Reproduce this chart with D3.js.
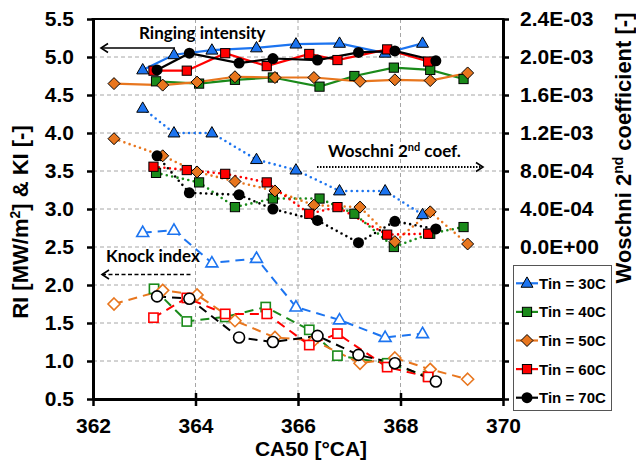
<!DOCTYPE html>
<html>
<head>
<meta charset="utf-8">
<script src="https://cdn.jsdelivr.net/npm/d3@7"></script>
<style>
  body { margin: 0; background: #fff; }
  svg { display: block; }
  .tick text { font-family: "Liberation Sans", Arial, sans-serif; font-weight: bold; font-size: 21px; fill: #000; }
</style>
</head>
<body>
<svg id="chart" width="636" height="466"></svg>
<script>
// ---------- data ----------
const tinLabels = ["Tin = 30C", "Tin = 40C", "Tin = 50C", "Tin = 60C", "Tin = 70C"];

// CA50 [°CA] of each operating point
const ca50_30 = [362.97, 363.58, 364.32, 365.19, 365.96, 366.81, 367.70, 368.43];
const ca50_40 = [363.23, 364.07, 364.77, 365.51, 366.42, 367.10, 367.87, 368.58, 369.23];
const ca50_40_ki = [363.19, 363.83, 364.58, 365.37, 366.22, 366.77, 367.74, 368.54];
const ca50_50 = [362.41, 363.36, 364.03, 364.77, 365.55, 366.31, 367.21, 367.89, 368.58, 369.31];
const ca50_60 = [363.18, 363.83, 364.58, 365.39, 366.22, 366.77, 367.74, 368.54];
const ca50_70 = [363.25, 363.88, 364.85, 365.51, 366.38, 367.18, 367.89, 368.69];

// Ringing intensity [MW/m2]
const ri_30 = [4.83, 5.03, 5.09, 5.12, 5.17, 5.18, 5.05, 5.18];
const ri_40 = [4.68, 4.65, 4.70, 4.73, 4.61, 4.75, 4.86, 4.83, 4.71];
const ri_50 = [4.65, 4.63, 4.67, 4.74, 4.73, 4.73, 4.68, 4.70, 4.69, 4.79];
const ri_60 = [4.82, 4.82, 5.05, 4.88, 5.04, 4.96, 5.10, 4.94];
const ri_70 = [4.83, 5.05, 4.92, 4.98, 4.96, 5.06, 5.08, 4.95];

// Woschni 2nd coefficient [-]
const w_30 = [1.46e-3, 1.20e-3, 1.20e-3, 9.2e-4, 8.1e-4, 5.9e-4, 5.9e-4, 3.4e-4];
const w_40 = [7.8e-4, 6.8e-4, 4.2e-4, 5.1e-4, 5.1e-4, 3.5e-4, 0.0, 1.4e-4, 2.1e-4];
const w_50 = [1.14e-3, 9.6e-4, 7.9e-4, 6.9e-4, 5.9e-4, 4.4e-4, 4.2e-4, 5.6e-5, 3.7e-4, 3.2e-5];
const w_60 = [8.45e-4, 8.1e-4, 7.7e-4, 6.8e-4, 3.5e-4, 4.2e-4, 1.3e-4, 1.4e-4];
const w_70 = [9.6e-4, 5.7e-4, 5.5e-4, 4.0e-4, 2.8e-4, 4.5e-5, 2.7e-4, 1.9e-4];

// Knock index [-]
const ki_30 = [2.69, 2.72, 2.29, 2.35, 1.71, 1.54, 1.31, 1.36];
const ki_40 = [1.95, 1.52, 1.58, 1.71, 1.41, 1.07, 0.97, 0.80];
const ki_50 = [1.75, 1.93, 1.87, 1.53, 1.31, 1.27, 0.97, 1.04, 0.89, 0.76];
const ki_60 = [1.57, 1.83, 1.62, 1.62, 1.21, 1.36, 0.92, 0.79];
const ki_70 = [1.85, 1.82, 1.31, 1.25, 1.33, 1.08, 0.97, 0.73];

// axis ticks
const xTicks = [362, 364, 366, 368, 370];
const leftTicks = [0.5, 1.0, 1.5, 2.0, 2.5, 3.0, 3.5, 4.0, 4.5, 5.0, 5.5];
const rightTicks = [-1.6e-3, -1.2e-3, -8e-4, -4e-4, 0, 4e-4, 8e-4, 1.2e-3, 1.6e-3, 2.0e-3, 2.4e-3];

// ---------- styling ----------
const colors = ["#1c74f0", "#1a8a1a", "#e8761e", "#ff0000", "#000000"];
const shapes = ["triangle", "square", "diamond", "square", "circle"];
const FONT = '"Liberation Sans", Arial, sans-serif';
const NOTE_FONT = 'Lato, "Open Sans", sans-serif';

const series = tinLabels.map((name, i) => ({
  name, color: colors[i], shape: shapes[i],
  ca: [ca50_30, ca50_40, ca50_50, ca50_60, ca50_70][i],
  caKi: [ca50_30, ca50_40_ki, ca50_50, ca50_60, ca50_70][i],
  ri: [ri_30, ri_40, ri_50, ri_60, ri_70][i],
  w: [w_30, w_40, w_50, w_60, w_70][i],
  ki: [ki_30, ki_40, ki_50, ki_60, ki_70][i]
}));

const svg = d3.select("#chart");
const plot = { left: 93, right: 503, top: 19, bottom: 399 };

const x = d3.scaleLinear().domain([362, 370]).range([plot.left, plot.right]);
const yL = d3.scaleLinear().domain([0.5, 5.5]).range([plot.bottom, plot.top]);
const yR = d3.scaleLinear().domain([-1.6e-3, 2.4e-3]).range([plot.bottom, plot.top]);

// ---------- grid ----------
const grid = svg.append("g").attr("stroke", "#a6a6a6").attr("stroke-width", 1).attr("stroke-dasharray", "4,3");
leftTicks.filter(v => v > 0.5 && v < 5.5).forEach(v => {
  grid.append("line").attr("x1", plot.left).attr("x2", plot.right).attr("y1", yL(v)).attr("y2", yL(v));
});
xTicks.filter(v => v > 362 && v < 370).forEach(v => {
  grid.append("line").attr("x1", x(v)).attr("x2", x(v)).attr("y1", plot.top).attr("y2", plot.bottom);
});

// ---------- markers ----------
function marker(g, shape, cx, cy, fill, stroke, sw) {
  let el;
  if (shape === "circle") {
    el = g.append("circle").attr("cx", cx).attr("cy", cy).attr("r", 5.5);
  } else if (shape === "square") {
    el = g.append("rect").attr("x", cx - 4.6).attr("y", cy - 4.6).attr("width", 9.2).attr("height", 9.2);
  } else if (shape === "diamond") {
    el = g.append("path").attr("d", `M${cx},${cy - 6}L${cx + 6},${cy}L${cx},${cy + 6}L${cx - 6},${cy}Z`);
  } else {
    el = g.append("path").attr("d", d3.symbol(d3.symbolTriangle, 62)()).attr("transform", `translate(${cx},${cy + 0.5})`);
  }
  el.attr("fill", fill).attr("stroke", stroke).attr("stroke-width", sw);
}

// ---------- knock index (dashed, open markers) ----------
series.forEach(s => {
  const pts = s.caKi.map((c, j) => [x(c), yL(s.ki[j])]);
  svg.append("path").attr("d", d3.line()(pts)).attr("fill", "none")
    .attr("stroke", s.color).attr("stroke-width", 2).attr("stroke-dasharray", "9,6");
});
series.forEach(s => {
  const g = svg.append("g");
  s.caKi.forEach((c, j) => marker(g, s.shape, x(c), yL(s.ki[j]), "#fff", s.color, 1.6));
});

// ---------- Woschni coefficient (dotted, right axis) ----------
series.forEach(s => {
  const pts = s.ca.map((c, j) => [x(c), yR(s.w[j])]);
  svg.append("path").attr("d", d3.line()(pts)).attr("fill", "none")
    .attr("stroke", s.color).attr("stroke-width", 2.6).attr("stroke-linecap", "round")
    .attr("stroke-dasharray", "0,5.5");
});
series.forEach(s => {
  const g = svg.append("g");
  s.ca.forEach((c, j) => marker(g, s.shape, x(c), yR(s.w[j]), s.color, "#000", s.shape === "circle" ? 0 : 1));
});

// ---------- ringing intensity (solid) ----------
series.forEach(s => {
  const pts = s.ca.map((c, j) => [x(c), yL(s.ri[j])]);
  svg.append("path").attr("d", d3.line()(pts)).attr("fill", "none")
    .attr("stroke", s.color).attr("stroke-width", 2.2);
});
series.forEach(s => {
  const g = svg.append("g");
  s.ca.forEach((c, j) => marker(g, s.shape, x(c), yL(s.ri[j]), s.color, "#000", s.shape === "circle" ? 0 : 1));
});

// ---------- axes ----------
const fmtLeft = d3.format(".1f");
const fmtRight = v => {
  if (v < -1e-12) return "";
  const [m, e] = Math.abs(v) < 1e-12 ? ["0.0", "+0"] : v.toExponential(1).split("e");
  const sign = e[0] === "-" ? "-" : "+";
  const digits = e.replace(/[+-]/, "").padStart(2, "0");
  return `${m}E${sign}${digits}`;
};

const axL = svg.append("g").attr("transform", `translate(${plot.left},0)`)
  .call(d3.axisLeft(yL).tickValues(leftTicks).tickFormat(fmtLeft).tickSize(6).tickSizeOuter(0).tickPadding(13));
const axR = svg.append("g").attr("transform", `translate(${plot.right},0)`)
  .call(d3.axisRight(yR).tickValues(rightTicks).tickFormat(fmtRight).tickSize(6).tickSizeOuter(0).tickPadding(11));
const axB = svg.append("g").attr("transform", `translate(0,${plot.bottom})`)
  .call(d3.axisBottom(x).tickValues(xTicks).tickFormat(d3.format("d")).tickSize(7).tickSizeOuter(0).tickPadding(12));
axB.selectAll(".tick line").attr("y1", -6);

[axL, axR, axB].forEach(a => {
  a.select(".domain").attr("stroke", "#000").attr("stroke-width", 3);
  a.selectAll(".tick line").attr("stroke", "#000").attr("stroke-width", 2.5);
});
// top border
svg.append("line").attr("x1", plot.left - 1.5).attr("x2", plot.right + 1.5)
  .attr("y1", plot.top).attr("y2", plot.top).attr("stroke", "#000").attr("stroke-width", 2);

// ---------- axis titles ----------
svg.append("text").attr("x", 311).attr("y", 456).attr("text-anchor", "middle")
  .attr("font-family", FONT).attr("font-weight", "bold").attr("font-size", 21)
  .text("CA50 [°CA]");

const lt = svg.append("text").attr("transform", "translate(28,222) rotate(-90)").attr("text-anchor", "middle")
  .attr("font-family", FONT).attr("font-weight", "bold").attr("font-size", 22);
lt.append("tspan").text("RI [MW/m");
lt.append("tspan").attr("font-size", 14).attr("dy", -8).text("2");
lt.append("tspan").attr("dy", 8).text("] & KI [-]");

const rt = svg.append("text").attr("transform", "translate(631,148) rotate(-90)").attr("text-anchor", "middle")
  .attr("font-family", FONT).attr("font-weight", "bold").attr("font-size", 22);
rt.append("tspan").text("Woschni 2");
rt.append("tspan").attr("font-size", 14).attr("dy", -8).text("nd");
rt.append("tspan").attr("dy", 8).text(" coefficient [-]");

// ---------- annotations ----------
function arrow(x1, x2, yy, dash, headLeft) {
  const g = svg.append("g").attr("stroke", "#000").attr("fill", "none");
  g.append("line").attr("x1", x1).attr("x2", x2).attr("y1", yy).attr("y2", yy)
    .attr("stroke-width", dash === "dot" ? 2 : 1.5)
    .attr("stroke-dasharray", dash === "dash" ? "4,2.5" : dash === "dot" ? "1.5,1.5" : null);
  const hx = headLeft ? x1 : x2, d = headLeft ? 7 : -7;
  g.append("path").attr("d", `M${hx + d},${yy - 4.5}L${hx},${yy}L${hx + d},${yy + 4.5}`).attr("stroke-width", 1.6);
}

svg.append("text").attr("x", 139).attr("y", 38.5).attr("font-family", NOTE_FONT)
  .attr("font-weight", "bold").attr("font-size", 17).text("Ringing intensity");
arrow(101, 175, 48, "solid", true);

const wn = svg.append("text").attr("x", 328).attr("y", 157).attr("font-family", NOTE_FONT)
  .attr("font-weight", "bold").attr("font-size", 17);
wn.append("tspan").text("Woschni 2");
wn.append("tspan").attr("font-size", 11).attr("dy", -6).text("nd");
wn.append("tspan").attr("dy", 6).text(" coef.");
arrow(317, 483, 167, "dot", false);

svg.append("text").attr("x", 106).attr("y", 262).attr("font-family", NOTE_FONT)
  .attr("font-weight", "bold").attr("font-size", 17).text("Knock index");
arrow(102, 193, 274.5, "dash", true);

// ---------- legend ----------
const leg = svg.append("g");
leg.append("rect").attr("x", 513.5).attr("y", 265.5).attr("width", 98).attr("height", 145)
  .attr("fill", "#fff").attr("stroke", "#555").attr("stroke-width", 1);
series.forEach((s, i) => {
  const yy = 283.3 + i * 28.6;
  leg.append("line").attr("x1", 516).attr("x2", 538).attr("y1", yy).attr("y2", yy)
    .attr("stroke", s.color).attr("stroke-width", 2.2);
  marker(leg, s.shape, 527, yy, s.color, "#000", s.shape === "circle" ? 0 : 1);
  leg.append("text").attr("x", 539).attr("y", yy + 5.5).attr("font-family", FONT)
    .attr("font-weight", "bold").attr("font-size", 15).text(s.name);
});
</script>
</body>
</html>
